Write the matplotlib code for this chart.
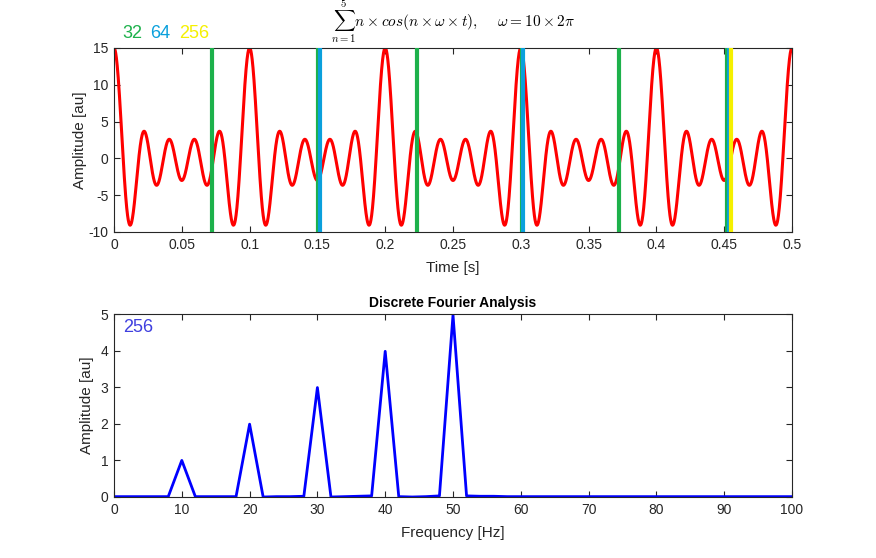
import numpy as np
import matplotlib
matplotlib.use("Agg")
import matplotlib.pyplot as plt

plt.rcParams['font.family'] = ['Liberation Sans', 'DejaVu Sans']
plt.rcParams['mathtext.fontset'] = 'cm'
plt.rcParams['axes.unicode_minus'] = False

# ---- data ----
harmonics = [1, 2, 3, 4, 5]          # n (amplitude = n)
base_freq_hz = 10                     # omega = 10 x 2pi
t_start, t_end = 0.0, 0.5

green_marks = [0.0725, 0.1502, 0.2235, 0.3006, 0.3725, 0.4518]
cyan_marks = [0.1519, 0.3019, 0.4538]
yellow_marks = [0.4550]

spec_freq = list(range(0, 101, 2))
spec_amp = [0.01, 0.01, 0.01, 0.01, 0.01, 1.00, 0.01, 0.01, 0.01, 0.01,
            1.99, 0.00, 0.01, 0.01, 0.02, 2.99, 0.00, 0.01, 0.02, 0.03,
            3.98, 0.01, 0.00, 0.01, 0.03, 4.97, 0.03, 0.02, 0.02, 0.01,
            0.01, 0.01, 0.01, 0.01, 0.01, 0.01, 0.01, 0.01, 0.01, 0.01,
            0.01, 0.01, 0.01, 0.01, 0.01, 0.01, 0.01, 0.01, 0.01, 0.01,
            0.01]

# ---- figure ----
W, H = 876, 558
fig = plt.figure(figsize=(W / 100, H / 100), dpi=100)
fig.patch.set_facecolor('white')

def rect(x0, y0, x1, y1):
    return [x0 / W, 1 - y1 / H, (x1 - x0) / W, (y1 - y0) / H]

axcol = '#262626'
ax1 = fig.add_axes(rect(114, 48, 792, 232))
ax2 = fig.add_axes(rect(114, 314, 792, 497))

t = np.linspace(t_start, t_end, 4001)
sig = np.zeros_like(t)
for n in harmonics:
    sig += n * np.cos(n * base_freq_hz * 2 * np.pi * t)

ax1.plot(t, sig, color='#FF0000', lw=2.2, zorder=2)
for x in green_marks:
    ax1.axvline(x, color='#1DB14B', lw=3, zorder=3)
for x in cyan_marks:
    ax1.axvline(x, color='#0AA0DC', lw=3, zorder=4)
for x in yellow_marks:
    ax1.axvline(x, color='#F5F000', lw=3, zorder=5)

ax1.set_xlim(0, 0.5)
ax1.set_ylim(-10, 15)
ax1.set_xticks(np.arange(0, 0.51, 0.05))
ax1.set_xticklabels(['0', '0.05', '0.1', '0.15', '0.2', '0.25', '0.3', '0.35',
                     '0.4', '0.45', '0.5'])
ax1.set_yticks([-10, -5, 0, 5, 10, 15])
ax1.set_xlabel('Time [s]', fontsize=11, color=axcol, labelpad=7)
ax1.set_ylabel('Amplitude [au]', fontsize=11, color=axcol, labelpad=1)
fig.text(453 / W, 1 - 27 / H,
         r'$\sum_{n=1}^{5} n \times cos(n \times \omega \times t),\quad\ \omega = 10 \times 2\pi$',
         fontsize=11, color='black', ha='center', va='baseline')
fig.text(122 / W, 1 - 33 / H, '32', color='#1DB14B', fontsize=13, va='center')
fig.text(150 / W, 1 - 33 / H, '64', color='#0AA0DC', fontsize=13, va='center')
fig.text(179 / W, 1 - 33 / H, '256', color='#F5F000', fontsize=13, va='center')

ax2.plot(spec_freq, spec_amp, color='#0000FF', lw=2)
ax2.set_xlim(0, 100)
ax2.set_ylim(0, 5)
ax2.set_xticks(range(0, 101, 10))
ax2.set_yticks(range(0, 6))
ax2.set_xlabel('Frequency [Hz]', fontsize=11, color=axcol, labelpad=7)
ax2.set_ylabel('Amplitude [au]', fontsize=11, color=axcol, labelpad=5)
ax2.set_title('Discrete Fourier Analysis', fontsize=10, fontweight='bold',
              color='black', pad=5)
ax2.text(0.013, 0.925, '256', transform=ax2.transAxes, color='#3F3FDF',
         fontsize=13, va='center', ha='left')

for ax in (ax1, ax2):
    ax.tick_params(direction='in', length=4, width=0.8, colors=axcol,
                   labelsize=10, top=True, right=True, pad=4)
    for s in ax.spines.values():
        s.set_color(axcol)
        s.set_linewidth(0.8)

fig.savefig('out.png', dpi=100)
